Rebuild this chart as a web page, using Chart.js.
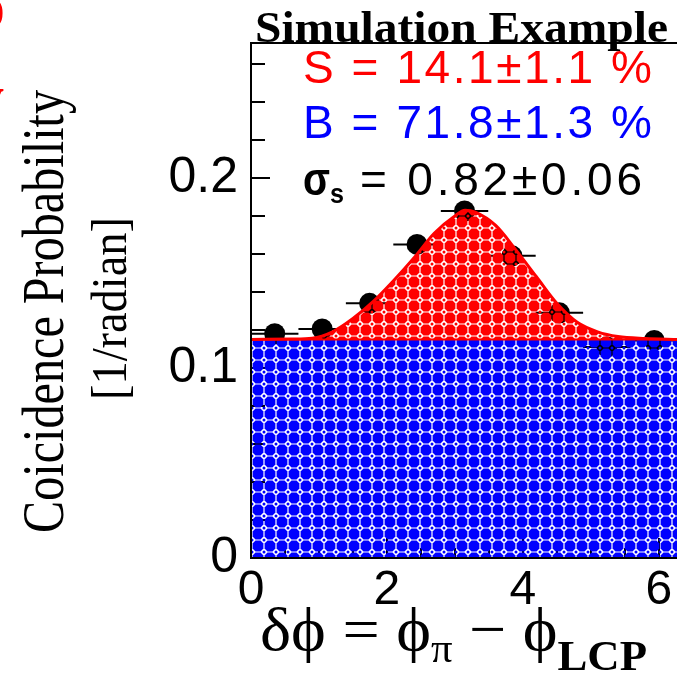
<!DOCTYPE html>
<html>
<head>
<meta charset="utf-8">
<script src="https://cdn.jsdelivr.net/npm/chart.js@4.4.0/dist/chart.umd.min.js"></script>
<style>
html, body { margin: 0; padding: 0; background: #fff; overflow: hidden; }
#wrap { width: 700px; height: 674px; }
</style>
</head>
<body>
<div id="wrap"><canvas id="chart" width="700" height="674"></canvas></div>
<script>
// measured points: 9 bins of width 2pi/9
const binCentres = [0.349, 1.047, 1.745, 2.443, 3.142, 3.840, 4.538, 5.236, 5.934];
const binHalfWidth = [0.349, 0.349, 0.349, 0.349, 0.349, 0.349, 0.349, 0.349, 0.349];
const measured = [0.118, 0.1205, 0.134, 0.165, 0.1826, 0.159, 0.129, 0.111, 0.1145];
const measuredErr = [0.004, 0.004, 0.004, 0.005, 0.005, 0.005, 0.004, 0.004, 0.004];

// flat background (blue) and signal peak (red)
const backgroundX = [0, 6.283];
const backgroundY = [0.115, 0.115];
const signalX = [0, 0.6, 0.9, 1.2, 1.5, 1.8, 2.1, 2.4, 2.7, 3.0, 3.15, 3.3, 3.6, 3.9, 4.2, 4.5, 4.8, 5.1, 5.4, 5.8, 6.283];
const signalY = [0.115, 0.1152, 0.1156, 0.119, 0.126, 0.135, 0.146, 0.158, 0.171, 0.180, 0.183, 0.182, 0.175, 0.162, 0.148, 0.134, 0.124, 0.119, 0.1165, 0.1155, 0.115];

const xTickStep = 2;
const yTickStep = 0.1;
const yMinorStep = 0.02;
const xMinorStep = 0.5;

// octagon lattice with see-through gaps, like the old hatch fill
function makePattern(color) {
  const c = document.createElement('canvas');
  c.width = 12; c.height = 12;
  const g = c.getContext('2d');
  g.fillStyle = color;
  const pts = [[3.5, 0.6], [8.5, 0.6], [11.4, 3.5], [11.4, 8.5], [8.5, 11.4], [3.5, 11.4], [0.6, 8.5], [0.6, 3.5]];
  g.beginPath();
  pts.forEach(function (p, i) { if (i === 0) g.moveTo(p[0], p[1]); else g.lineTo(p[0], p[1]); });
  g.closePath();
  g.fill();
  [[0, 0], [12, 0], [0, 12], [12, 12]].forEach(function (p) {
    g.beginPath(); g.arc(p[0], p[1], 1.5, 0, 2 * Math.PI); g.fill();
  });
  return g.createPattern(c, 'repeat');
}

// text squeezed/stretched to the width it has in the picture
function drawScaled(ctx, text, x, y, width, font, color) {
  ctx.save();
  ctx.font = font;
  ctx.fillStyle = color;
  ctx.textAlign = 'left';
  ctx.textBaseline = 'alphabetic';
  const w = ctx.measureText(text).width;
  ctx.translate(x, y);
  ctx.scale(width / w, 1);
  ctx.fillText(text, 0, 0);
  ctx.restore();
}

function drawSpaced(ctx, text, x, y, width, font, color) {
  ctx.save();
  ctx.font = font;
  ctx.fillStyle = color;
  ctx.textAlign = 'left';
  ctx.textBaseline = 'alphabetic';
  ctx.letterSpacing = '0px';
  const w = ctx.measureText(text).width;
  ctx.letterSpacing = ((width - w) / (text.length - 1)) + 'px';
  ctx.fillText(text, x, y);
  ctx.restore();
}

// error bars and tick marks go under the fills, the box on top
const underlay = {
  id: 'underlay',
  beforeDatasetsDraw(chart) {
    const ctx = chart.ctx, a = chart.chartArea, x = chart.scales.x, y = chart.scales.y;
    ctx.save();
    ctx.strokeStyle = '#000';
    ctx.lineWidth = 2;
    ctx.beginPath();
    for (let i = 0; i < binCentres.length; i++) {
      const px = x.getPixelForValue(binCentres[i]);
      const py = y.getPixelForValue(measured[i]);
      ctx.moveTo(x.getPixelForValue(binCentres[i] - binHalfWidth[i]), py);
      ctx.lineTo(x.getPixelForValue(binCentres[i] + binHalfWidth[i]), py);
      ctx.moveTo(px, y.getPixelForValue(measured[i] - measuredErr[i]));
      ctx.lineTo(px, y.getPixelForValue(measured[i] + measuredErr[i]));
    }
    for (let v = 0; v <= y.max + 1e-9; v += yMinorStep) {
      const py = Math.round(y.getPixelForValue(v));
      const major = Math.abs(v / yTickStep - Math.round(v / yTickStep)) < 1e-6;
      ctx.moveTo(a.left, py);
      ctx.lineTo(a.left + (major ? 19 : 14), py);
    }
    for (let v = 0; v <= x.max + 1e-9; v += xMinorStep) {
      const px = Math.round(x.getPixelForValue(v));
      const major = Math.abs(v / xTickStep - Math.round(v / xTickStep)) < 1e-6;
      ctx.moveTo(px, a.bottom);
      ctx.lineTo(px, a.bottom - (major ? 20 : 10));
    }
    ctx.stroke();
    ctx.restore();
  },
  afterDatasetsDraw(chart) {
    const ctx = chart.ctx, a = chart.chartArea;
    ctx.save();
    ctx.strokeStyle = '#000';
    ctx.lineWidth = 2;
    ctx.strokeRect(a.left, a.top, a.right - a.left, a.bottom - a.top);
    ctx.restore();
  }
};

const labels = {
  id: 'labels',
  afterDraw(chart) {
    const ctx = chart.ctx;
    // title
    drawScaled(ctx, 'Simulation Example', 255, 42, 413, 'bold 44px "Liberation Serif"', '#000');
    // fit results
    drawSpaced(ctx, 'S = 14.1\u00b11.1 %', 303, 83, 349, '46px "Liberation Sans"', '#ff0000');
    drawSpaced(ctx, 'B = 71.8\u00b11.3 %', 303, 138, 349, '46px "Liberation Sans"', '#0000ff');
    drawScaled(ctx, '\u03c3', 303, 195, 27, 'bold 46px "Liberation Sans"', '#000');
    drawScaled(ctx, 's', 330, 203, 14, 'bold 28px "Liberation Sans"', '#000');
    drawSpaced(ctx, '= 0.82\u00b10.06', 360, 195, 282, '46px "Liberation Sans"', '#000');

    // y axis title, two lines
    ctx.save();
    ctx.translate(63, 533);
    ctx.rotate(-Math.PI / 2);
    drawScaled(ctx, 'Coicidence Probability', 0, 0, 443, '60px "Liberation Serif"', '#000');
    ctx.restore();
    ctx.save();
    ctx.translate(126, 400);
    ctx.rotate(-Math.PI / 2);
    drawScaled(ctx, '[1/radian]', 0, 0, 183, '50px "Liberation Serif"', '#000');
    ctx.restore();

    // x axis title: delta phi = phi_pi - phi_LCP
    ctx.save();
    ctx.fillStyle = '#000';
    ctx.textBaseline = 'alphabetic';
    const main = '62px "Liberation Serif"';
    const sub = '40px "Liberation Serif"';
    const subB = 'bold 42px "Liberation Serif"';
    const parts = [
      ['\u03b4\u03d5 = \u03d5', main, 0],
      ['\u03c0', sub, 12],
      [' \u2212 \u03d5', main, 0],
      ['LCP', subB, 20]
    ];
    let total = 0;
    parts.forEach(function (p) { ctx.font = p[1]; total += ctx.measureText(p[0]).width; });
    ctx.translate(260, 650);
    ctx.scale(387 / total, 1);
    let cx = 0;
    parts.forEach(function (p) {
      ctx.font = p[1];
      ctx.fillText(p[0], cx, p[2]);
      cx += ctx.measureText(p[0]).width;
    });
    ctx.restore();

    // red fragments of the neighbouring figure at the left edge
    ctx.save();
    ctx.fillStyle = '#ff0000';
    ctx.font = 'bold 64px "Liberation Serif"';
    ctx.fillText('o', -27, 28);
    ctx.fillText('y', -28, 118);
    ctx.restore();
  }
};

const bluePattern = makePattern('#0000ff');
const redPattern = makePattern('#ff0000');

new Chart(document.getElementById('chart'), {
  type: 'line',
  data: {
    datasets: [
      {
        type: 'scatter',
        label: 'data',
        data: binCentres.map(function (x, i) { return { x: x, y: measured[i] }; }),
        backgroundColor: '#000',
        borderWidth: 0,
        pointRadius: 10.5,
        order: 3
      },
      {
        label: 'background',
        data: backgroundX.map(function (x, i) { return { x: x, y: backgroundY[i] }; }),
        fill: 'origin',
        backgroundColor: bluePattern,
        borderColor: '#ff0000',
        borderWidth: 2,
        pointRadius: 0,
        order: 2
      },
      {
        label: 'signal',
        data: signalX.map(function (x, i) { return { x: x, y: signalY[i] }; }),
        fill: { value: 0.115 },
        backgroundColor: redPattern,
        borderColor: '#ff0000',
        borderWidth: 3,
        pointRadius: 0,
        cubicInterpolationMode: 'monotone',
        order: 1
      }
    ]
  },
  options: {
    responsive: false,
    animation: false,
    devicePixelRatio: 1,
    layout: { padding: { left: 0, top: 43, right: 22, bottom: 0 } },
    plugins: { legend: { display: false }, tooltip: { enabled: false } },
    scales: {
      x: {
        type: 'linear',
        min: 0,
        max: 2 * Math.PI,
        afterFit: function (s) { s.height = 116; },
        grid: { display: false, drawTicks: false },
        border: { display: false },
        ticks: {
          stepSize: xTickStep,
          includeBounds: false,
          autoSkip: false,
          maxRotation: 0,
          padding: 4,
          color: '#000',
          font: { family: 'Liberation Sans', size: 48 }
        }
      },
      y: {
        type: 'linear',
        min: 0,
        max: 0.271,
        afterFit: function (s) { s.width = 251; },
        grid: { display: false, drawTicks: false },
        border: { display: false },
        ticks: {
          stepSize: yTickStep,
          includeBounds: false,
          padding: 13,
          color: '#000',
          font: { family: 'Liberation Sans', size: 50 },
          callback: function (v) { return v === 0 ? '0' : v.toFixed(1); }
        }
      }
    }
  },
  plugins: [underlay, labels]
});
</script>
</body>
</html>
